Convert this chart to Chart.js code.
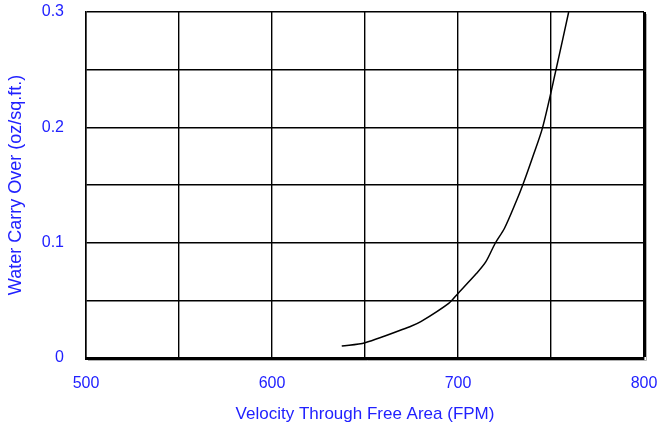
<!DOCTYPE html>
<html>
<head>
<meta charset="utf-8">
<script src="https://cdn.jsdelivr.net/npm/chart.js@4"></script>
<style>
html,body{margin:0;padding:0;background:#fff;}
#wrap{width:662px;height:429px;position:relative;}
</style>
</head>
<body>
<div id="wrap"><canvas id="c" width="662" height="429"></canvas></div>
<script>
const velocity = [637.5, 650, 675, 680, 695, 700, 710, 715, 720, 725, 731.6, 734.8, 740.3, 745.5, 752.7, 759.5];
const carryOver = [0.0104, 0.0133, 0.0278, 0.0315, 0.0474, 0.056, 0.0734, 0.0835, 0.0995, 0.1125, 0.137, 0.15, 0.175, 0.2, 0.25, 0.3];
const xTickLabels = [500, 600, 700, 800];
const yTickLabels = [0, 0.1, 0.2, 0.3];
const xTitle = 'Velocity Through Free Area (FPM)';
const yTitle = 'Water Carry Over (oz/sq.ft.)';

const BLUE = '#2121ff';
const FONT = 'Liberation Sans, Arial, sans-serif';

const shadow = {
  id: 'shadow',
  afterDraw(chart) {
    const a = chart.chartArea, ctx = chart.ctx;
    ctx.save();
    ctx.strokeStyle = '#b0b0b0';
    ctx.lineWidth = 1;
    ctx.beginPath();
    ctx.moveTo(a.left + 2, a.bottom + 2.5);
    ctx.lineTo(a.right + 2.5, a.bottom + 2.5);
    ctx.lineTo(a.right + 2.5, a.top + 2);
    ctx.stroke();
    ctx.restore();
  }
};

function noPad(s) {
  s.paddingTop = 0; s.paddingBottom = 0; s.paddingLeft = 0; s.paddingRight = 0;
}

new Chart(document.getElementById('c'), {
  type: 'line',
  data: {
    datasets: [{
      data: velocity.map((v, i) => ({x: v, y: carryOver[i]})),
      borderColor: '#000',
      borderWidth: 1.5,
      pointRadius: 0,
      tension: 0.3,
      fill: false
    }]
  },
  options: {
    responsive: false,
    animation: false,
    devicePixelRatio: 1,
    layout: {padding: {top: 12, right: 18, bottom: 0, left: 0}},
    plugins: {legend: {display: false}, tooltip: {enabled: false}},
    scales: {
      x: {
        type: 'linear',
        min: 500, max: 800,
        afterFit(s) { s.height = 71; noPad(s); },
        afterBuildTicks(s) {
          s.ticks = [500, 550, 600, 650, 700, 750, 800].map(v => ({value: v}));
        },
        ticks: {
          color: BLUE,
          font: {family: FONT, size: 16},
          padding: 16,
          maxRotation: 0,
          callback: v => xTickLabels.includes(v) ? String(v) : ''
        },
        grid: {
          color: '#000',
          lineWidth: ctx => (ctx.tick && ctx.tick.value === 800) ? 3 : 1.4,
          drawTicks: false
        },
        border: {display: true, color: '#000', width: 3},
        title: {
          display: true,
          text: xTitle,
          color: BLUE,
          font: {family: FONT, size: 17},
          padding: {top: 0, bottom: 4}
        }
      },
      y: {
        type: 'linear',
        min: 0, max: 0.3,
        afterFit(s) { s.width = 86; noPad(s); },
        afterBuildTicks(s) {
          s.ticks = [0, 0.05, 0.1, 0.15, 0.2, 0.25, 0.3].map(v => ({value: v}));
        },
        ticks: {
          color: BLUE,
          font: {family: FONT, size: 16},
          padding: 22,
          callback: v => {
            const r = Math.round(v * 100) / 100;
            return yTickLabels.includes(r) ? String(r) : '';
          }
        },
        grid: {
          color: '#000',
          lineWidth: 1.4,
          drawTicks: false
        },
        border: {display: true, color: '#000', width: 1.5},
        title: {
          display: true,
          text: yTitle,
          color: BLUE,
          font: {family: FONT, size: 18},
          padding: {top: 5, bottom: 0}
        }
      }
    }
  },
  plugins: [shadow]
});
</script>
</body>
</html>
